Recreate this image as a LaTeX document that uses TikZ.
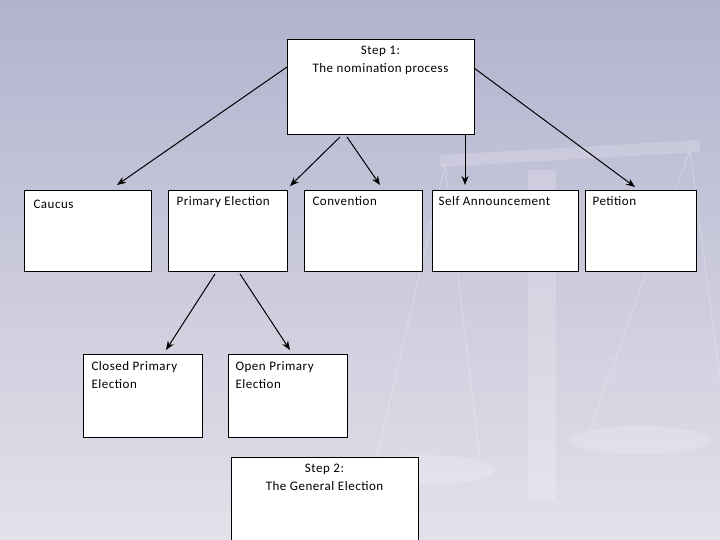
\documentclass[tikz,border=0pt]{standalone}
\usepackage{fontspec}
\setmainfont{Carlito}[LetterSpace=4]
\usetikzlibrary{arrows.meta}
\begin{document}
\begin{tikzpicture}[x=1pt,y=-1pt,
  box/.style={draw=black,fill=white,line width=0.6pt},
  lab/.style={font=\fontsize{13}{18}\selectfont,align=center},
  arr/.style={-{Stealth[length=9pt,width=7pt]},line width=1pt}]
\shade[top color={rgb,255:red,178;green,178;blue,206},bottom color={rgb,255:red,226;green,226;blue,234}] (0,0) rectangle (720,540);
\useasboundingbox (0,0) rectangle (720,540);
% faint scale
\begin{scope}[fill=white,opacity=0.18]
\fill (528,170) rectangle (556,500);
\fill (440,155) -- (700,140) -- (700,152) -- (440,167) -- cycle;
\fill (420,470) ellipse (75 and 15);
\fill (640,440) ellipse (70 and 14);
\end{scope}
\draw[white,opacity=0.25,line width=1pt] (445,165)--(375,465) (445,165)--(480,460) (690,150)--(590,430) (690,150)--(720,380);
% boxes
\draw[box] (287,39) rectangle (474,134); \node[lab,anchor=north] (s1) at (380.5,43) {Step 1:\\The nomination process};
\draw[box] (24,190) rectangle (151,271); \node[lab,anchor=west] (ca) at (30,204) {Caucus};
\draw[box] (168,190) rectangle (287,271); \node[lab,anchor=north west] (pe) at (173,193) {Primary Election};
\draw[box] (304,190) rectangle (422,271); \node[lab,anchor=north west] (cv) at (309,193) {Convention};
\draw[box] (432,190) rectangle (578,271); \node[lab,anchor=north west] (sa) at (435,193) {Self Announcement};
\draw[box] (585,190) rectangle (696,271); \node[lab,anchor=north west] (pt) at (589,193) {Petition};
\draw[box] (83,354) rectangle (202,437); \node[lab,anchor=north west,align=left] (cp) at (88,358) {Closed Primary\\Election};
\draw[box] (228,354) rectangle (347,437); \node[lab,anchor=north west,align=left] (op) at (232,358) {Open Primary\\Election};
\draw[box] (231,457) rectangle (418,545); \node[lab,anchor=north] (s2) at (324.5,461) {Step 2:\\The General Election};
% connectors
\coordinate (a1) at (287,67); \coordinate (a1e) at (117,185);
\coordinate (a2) at (340,137); \coordinate (a2e) at (290,186);
\coordinate (a3) at (347,137); \coordinate (a3e) at (380,185);
\coordinate (a4) at (465,135); \coordinate (a4e) at (465,185);
\coordinate (a5) at (474,68); \coordinate (a5e) at (635,187);
\coordinate (b1) at (215,274); \coordinate (b1e) at (166,350);
\coordinate (b2) at (240,274); \coordinate (b2e) at (290,350);
\draw[arr] (a1)--(a1e);
\draw[arr] (a2)--(a2e);
\draw[arr] (a3)--(a3e);
\draw[arr] (a4)--(a4e);
\draw[arr] (a5)--(a5e);
\draw[arr] (b1)--(b1e);
\draw[arr] (b2)--(b2e);
\end{tikzpicture}
\end{document}
